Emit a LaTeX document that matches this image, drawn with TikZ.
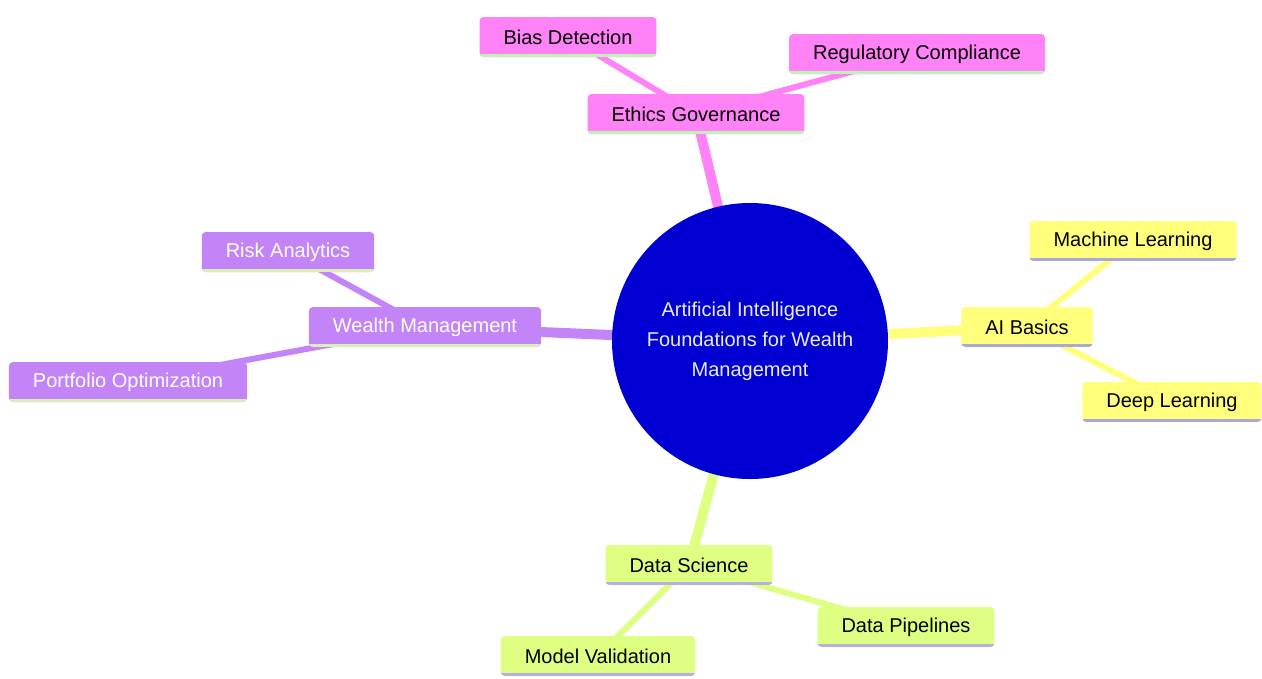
\documentclass[tikz,border=0pt]{standalone}
\usepackage{fontspec}
\setmainfont{Liberation Sans}
\usetikzlibrary{backgrounds}
\definecolor{pinkfill}{HTML}{FF82F6}
\definecolor{pinkline}{HTML}{BDF2B4}
\definecolor{purplefill}{HTML}{C384F8}
\definecolor{purpleline}{HTML}{D9F0B2}
\definecolor{yellowfill}{HTML}{FFFF7C}
\definecolor{yellowline}{HTML}{A9A6E0}
\definecolor{greenfill}{HTML}{DEFF82}
\definecolor{greenline}{HTML}{B6AEE6}
\definecolor{rootfill}{HTML}{0000D2}
\tikzset{
	box/.style={rectangle,rounded corners=4pt,minimum height=40pt,inner xsep=24pt,inner ysep=0pt,font=\fontsize{20}{24}\selectfont},
	leaf/.style 2 args={box,fill=#1,path picture={\fill[#2,sharp corners] ([yshift=3pt]path picture bounding box.south west) rectangle (path picture bounding box.south east);}},
	pinkbox/.style={leaf={pinkfill}{pinkline},text=black},
	purplebox/.style={leaf={purplefill}{purpleline},text=white},
	yellowbox/.style={leaf={yellowfill}{yellowline},text=black},
	greenbox/.style={leaf={greenfill}{greenline},text=black},
	root/.style={circle,fill=rootfill,minimum size=276pt,inner sep=0pt,align=center,text=white!92!black,font=\fontsize{20}{30}\selectfont},
	main/.style={line width=10pt},
	sub/.style={line width=6pt}
}

\begin{document}
\begin{tikzpicture}[x=1pt,y=-1pt]
	\useasboundingbox (0,0) rectangle (1262,678);
	\node[root] (ai) at (750,341) {Artificial Intelligence\\Foundations for Wealth\\Management};
	% ethics branch
	\node[pinkbox] (eth) at (696,114) {Ethics Governance};
	\node[pinkbox] (bias) at (568,37) {Bias Detection};
	\node[pinkbox] (reg) at (917,54) {Regulatory Compliance};
	% basics branch
	\node[yellowbox] (basic) at (1027,327) {AI Basics};
	\node[yellowbox] (ml) at (1133,241) {Machine Learning};
	\node[yellowbox] (dl) at (1172,402) {Deep Learning};
	% data branch
	\node[greenbox] (ds) at (689,565) {Data Science};
	\node[greenbox] (pipe) at (906,627) {Data Pipelines};
	\node[greenbox] (val) at (598,656) {Model Validation};
	% wealth branch
	\node[purplebox] (wm) at (425,327) {Wealth Management};
	\node[purplebox] (risk) at (288,252) {Risk Analytics};
	\node[purplebox] (port) at (128,382) {Portfolio Optimization};

	\begin{scope}[on background layer]
		\draw[main,pinkfill] (ai.center) -- (eth.center);
		\draw[sub,pinkfill] (eth.center) -- (bias.center);
		\draw[sub,pinkfill] (eth.center) -- (reg.center);
		\draw[main,yellowfill] (ai.center) -- (basic.center);
		\draw[sub,yellowfill] (basic.center) -- (ml.center);
		\draw[sub,yellowfill] (basic.center) -- (dl.center);
		\draw[main,greenfill] (ai.center) -- (ds.center);
		\draw[sub,greenfill] (ds.center) -- (pipe.center);
		\draw[sub,greenfill] (ds.center) -- (val.center);
		\draw[main,purplefill] (ai.center) -- (wm.center);
		\draw[sub,purplefill] (wm.center) -- (risk.center);
		\draw[sub,purplefill] (wm.center) -- (port.center);
	\end{scope}
\end{tikzpicture}
\end{document}
